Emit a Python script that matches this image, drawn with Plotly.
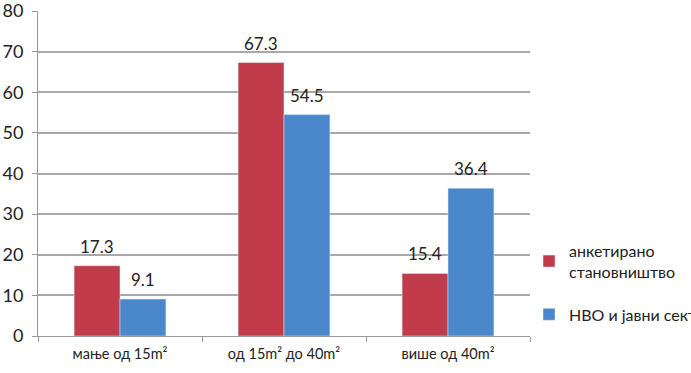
import plotly.graph_objects as go

categories = ["мање од 15m²", "од 15m² до 40m²", "више од 40m²"]
series_names = ["анкетирано<br>становништво", "НВО и јавни сектор"]
population = [17.3, 67.3, 15.4]
ngo_public = [9.1, 54.5, 36.4]
y_ticks = [0, 10, 20, 30, 40, 50, 60, 70, 80]

red = "#C23B4B"
blue = "#4A87CB"
font = "Lato, 'Open Sans', sans-serif"

fig = go.Figure()
series = [(series_names[0], population, red, -23), (series_names[1], ngo_public, blue, 23)]
for i, (name, vals, col, shift) in enumerate(series):
    fig.add_trace(go.Bar(
        x=categories, y=vals, name=name, marker_color=col, legendgroup=f"g{i}",
    ))
    for c, v in zip(categories, vals):
        fig.add_annotation(x=c, y=v, text=f"{v:.1f}", showarrow=False,
                           xshift=shift, yshift=7, yanchor="bottom",
                           font=dict(size=17, color="#222"))

fig.update_layout(
    width=691, height=373,
    margin=dict(l=38, r=161, t=11, b=37, autoexpand=False),
    paper_bgcolor="white", plot_bgcolor="white",
    barmode="group", bargap=0.44, bargroupgap=0,
    font=dict(family=font, size=16, color="#222"),
    showlegend=True,
    legend=dict(x=0.998, y=0.3145, xanchor="left", yanchor="top",
                font=dict(size=16), tracegroupgap=19,
                itemwidth=30, bgcolor="rgba(0,0,0,0)"),
    xaxis=dict(showline=True, linecolor="#999", ticks="outside", tickcolor="#999",
               ticklen=5, tickson="boundaries", showgrid=False,
               tickfont=dict(size=14.5), ticklabelstandoff=5),
    yaxis=dict(range=[0, 80], tickmode="array", tickvals=y_ticks,
               ticktext=[str(t) for t in y_ticks], showgrid=True, gridcolor="#A8A8A8",
               gridwidth=1.5, showline=True, linecolor="#999", ticks="outside",
               tickcolor="#999", ticklen=5, tickfont=dict(size=18), zeroline=False,
               ticklabeloverflow="allow", ticklabelstandoff=5),
)
fig.write_html("out.html", config={"displayModeBar": False})
with open("out.html", encoding="utf-8") as f:
    html = f.read()
html = html.replace("<head>", "<head><style>html,body{margin:0;padding:0;overflow:hidden}</style>", 1)
with open("out.html", "w", encoding="utf-8") as f:
    f.write(html)
